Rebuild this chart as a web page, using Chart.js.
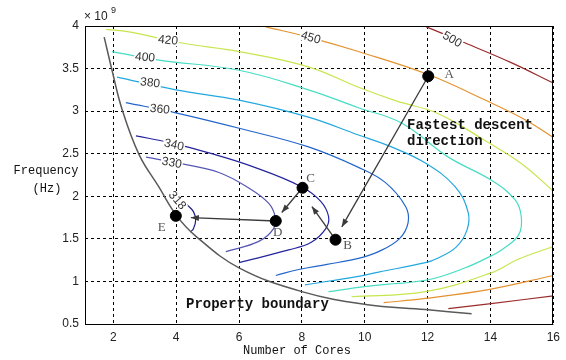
<!DOCTYPE html>
<html>
<head>
<meta charset="utf-8">
<script src="https://cdn.jsdelivr.net/npm/chart.js@4.4.1/dist/chart.umd.min.js"></script>
<style>
  html, body { margin: 0; padding: 0; background: #fff; }
  canvas { display: block; }
</style>
</head>
<body>
<canvas id="contour" width="566" height="360"></canvas>
<script>
// axis ticks
const xTicks = [2, 4, 6, 8, 10, 12, 14, 16]
const yTicks = [0.5, 1, 1.5, 2, 2.5, 3, 3.5, 4]

// contour levels and their traced lines [cores, GHz]
const levels = [318, 330, 340, 360, 380, 400, 420, 450, 500]
const c318 = [[4.35, 1.9], [4.55, 1.82], [4.62, 1.72], [4.55, 1.62], [4.45, 1.58]]
const c330 = [[3.04, 2.46], [4.2, 2.38], [5.36, 2.28], [6.3, 2.1], [6.94, 1.92], [7.15, 1.76], [7.1, 1.62], [6.63, 1.47], [5.58, 1.35]]
const c340 = [[2.72, 2.71], [3.8, 2.63], [5.04, 2.51], [6.5, 2.34], [8.0, 2.11], [8.6, 1.94], [8.85, 1.76], [8.76, 1.62], [8.3, 1.46], [7.58, 1.37], [6.0, 1.22]]
const c360 = [[2.4, 3.1], [3.99, 2.98], [6.1, 2.79], [8.21, 2.58], [9.8, 2.34], [10.66, 2.16], [11.3, 1.88], [11.38, 1.69], [11.1, 1.5], [10.44, 1.35], [9.8, 1.27], [8.8, 1.2], [7.9, 1.14], [7.17, 1.07]]
const c380 = [[2.12, 3.4], [3.99, 3.25], [6.0, 3.13], [8.21, 2.93], [9.8, 2.72], [10.85, 2.58], [11.93, 2.39], [12.88, 2.11], [13.29, 1.81], [13.25, 1.6], [12.9, 1.4], [12.3, 1.27], [11.93, 1.22], [10.44, 1.11], [9.8, 1.06], [8.1, 0.96]]
const c400 = [[1.96, 3.7], [3.45, 3.6], [6.0, 3.48], [8.21, 3.25], [9.8, 3.04], [11.17, 2.86], [12.66, 2.46], [14.02, 2.19], [14.78, 1.96], [14.98, 1.76], [14.9, 1.55], [14.4, 1.38], [14.02, 1.3], [13.2, 1.16], [12.02, 1.02], [10.5, 0.96], [9.8, 0.93], [8.85, 0.88]]
const c420a = [[1.77, 3.96], [2.5, 3.93], [4.18, 3.8], [6.0, 3.7], [8.21, 3.52], [9.8, 3.28], [11.0, 3.12], [12.34, 2.97], [13.8, 2.66], [15.0, 2.38], [16.0, 2.06]]
const c420b = [[9.58, 0.82], [11.93, 0.88], [14.02, 1.1], [14.88, 1.26], [16.0, 1.41]]
const c450a = [[6.85, 3.99], [8.21, 3.87], [9.8, 3.7], [12.02, 3.43], [13.83, 3.13], [15.1, 2.9], [16.0, 2.69]]
const c450b = [[10.6, 0.75], [11.93, 0.8], [14.02, 0.91], [16.0, 1.07]]
const c500a = [[11.96, 3.99], [13.2, 3.8], [14.66, 3.57], [16.0, 3.33]]
const c500b = [[12.66, 0.68], [14.02, 0.74], [16.0, 0.83]]

// property boundary
const boundary = [[1.71, 3.87], [1.96, 3.48], [2.28, 3.02], [2.82, 2.49], [3.45, 2.11], [4.02, 1.77], [4.63, 1.53], [6.0, 1.16], [8.0, 0.88], [10.03, 0.73], [11.93, 0.67], [13.4, 0.62]]

// search points and steps
const pointNames = ['A', 'B', 'C', 'D', 'E']
const pointX = [12.02, 9.07, 8.02, 7.17, 3.99]
const pointY = [3.41, 1.49, 2.1, 1.71, 1.77]
const stepEnds = [[9.27, 1.64], [8.32, 1.88], [7.36, 1.81], [4.47, 1.75]]

const levelColors = {
    318: '#1c1c84', 330: '#5656b4', 340: '#24249c', 360: '#2266cc', 380: '#22a8de',
    400: '#48dcc4', 420: '#c6e64e', 450: '#e4922e', 500: '#9a2c2c'
}

const contourLines = [
    [318, c318], [330, c330], [340, c340], [360, c360], [380, c380], [400, c400],
    [420, c420a], [420, c420b], [450, c450a], [450, c450b], [500, c500a], [500, c500b]
]

// contour label placement
const contourLabels = [
    { t: '420', x: 3.74, y: 3.83, r: 6 },
    { t: '400', x: 3.01, y: 3.63, r: 5 },
    { t: '380', x: 3.17, y: 3.33, r: 6 },
    { t: '360', x: 3.48, y: 3.02, r: 6 },
    { t: '340', x: 3.93, y: 2.6, r: 12 },
    { t: '330', x: 3.86, y: 2.39, r: 10 },
    { t: '318', x: 4.03, y: 1.95, r: 50 },
    { t: '450', x: 8.28, y: 3.86, r: 16 },
    { t: '500', x: 12.78, y: 3.84, r: 30 }
]

const toXY = arr => arr.map(p => ({ x: p[0], y: p[1] }))

const datasets = []

datasets.push({
    label: 'points',
    data: pointX.map((x, i) => ({ x, y: pointY[i] })),
    showLine: false,
    pointRadius: 5.5,
    pointBackgroundColor: '#000',
    pointBorderColor: '#000'
})

stepEnds.forEach((end, i) => {
    datasets.push({
        label: 'step' + i,
        data: [{ x: pointX[i], y: pointY[i] }, { x: end[0], y: end[1] }],
        showLine: true,
        borderColor: '#3a3a3a',
        borderWidth: 1.3,
        pointRadius: 0
    })
})

datasets.push({
    label: 'boundary',
    data: toXY(boundary),
    showLine: true,
    borderColor: '#5a5a5a',
    borderWidth: 1.5,
    pointRadius: 0,
    tension: 0.4
})

contourLines.forEach(([lvl, pts]) => {
    datasets.push({
        label: 'c' + lvl,
        data: toXY(pts),
        showLine: true,
        borderColor: levelColors[lvl],
        borderWidth: 1.2,
        pointRadius: 0,
        tension: 0.4
    })
})

const overlay = {
    id: 'overlay',
    afterDatasetsDraw(chart) {
        const { ctx, scales: { x, y } } = chart
        ctx.save()

        // contour labels
        ctx.font = '12px "Liberation Sans", Arial, sans-serif'
        ctx.textAlign = 'center'
        ctx.textBaseline = 'middle'
        contourLabels.forEach(l => {
            const px = x.getPixelForValue(l.x)
            const py = y.getPixelForValue(l.y)
            ctx.save()
            ctx.translate(px, py)
            ctx.rotate(l.r * Math.PI / 180)
            const w = ctx.measureText(l.t).width
            ctx.fillStyle = '#fff'
            ctx.fillRect(-w / 2 - 1, -5, w + 2, 10)
            ctx.fillStyle = '#333'
            ctx.fillText(l.t, 0, 0)
            ctx.restore()
        })

        // arrow heads
        ctx.fillStyle = '#3a3a3a'
        stepEnds.forEach((end, i) => {
            const x0 = x.getPixelForValue(pointX[i]), y0 = y.getPixelForValue(pointY[i])
            const x1 = x.getPixelForValue(end[0]), y1 = y.getPixelForValue(end[1])
            const a = Math.atan2(y1 - y0, x1 - x0)
            ctx.beginPath()
            ctx.moveTo(x1, y1)
            ctx.lineTo(x1 - 8 * Math.cos(a) + 3 * Math.sin(a), y1 - 8 * Math.sin(a) - 3 * Math.cos(a))
            ctx.lineTo(x1 - 8 * Math.cos(a) - 3 * Math.sin(a), y1 - 8 * Math.sin(a) + 3 * Math.cos(a))
            ctx.closePath()
            ctx.fill()
        })

        // point letters
        const offs = [[21, -2], [12, 6], [8, -9], [2, 12], [-14, 12]]
        ctx.font = '13px "Liberation Serif", "Times New Roman", serif'
        ctx.fillStyle = '#555'
        pointNames.forEach((n, i) => {
            ctx.fillText(n, x.getPixelForValue(pointX[i]) + offs[i][0], y.getPixelForValue(pointY[i]) + offs[i][1])
        })

        // annotations
        ctx.font = 'bold 14px "Liberation Mono", "DejaVu Sans Mono", monospace'
        ctx.fillStyle = '#111'
        ctx.textAlign = 'left'
        ctx.fillText('Fastest descent', 407, 125)
        ctx.fillText('direction', 407, 141)
        ctx.fillText('Property boundary', 186, 304)
        ctx.restore()
    },
    afterDraw(chart) {
        const { ctx, chartArea: a } = chart
        ctx.save()
        ctx.strokeStyle = '#000'
        ctx.lineWidth = 1
        ctx.strokeRect(Math.round(a.left) + 0.5, Math.round(a.top) + 0.5, Math.round(a.right - a.left) - 1, Math.round(a.bottom - a.top))

        ctx.fillStyle = '#222'
        ctx.textBaseline = 'middle'
        ctx.font = '12px "Liberation Sans", Arial, sans-serif'
        ctx.textAlign = 'left'
        ctx.fillText('\u00d7 10', 84, 17)
        ctx.font = '9px "Liberation Sans", Arial, sans-serif'
        ctx.fillText('9', 111, 11)

        ctx.font = '12px "Liberation Mono", "DejaVu Sans Mono", monospace'
        ctx.fillStyle = '#111'
        ctx.textAlign = 'center'
        ctx.fillText('Number of Cores', 297, 351)
        ctx.fillText('Frequency', 46, 171)
        ctx.fillText('(Hz)', 47, 189)
        ctx.restore()
    }
}

const tickFont = { family: '"Liberation Sans", Arial, sans-serif', size: 12 }

new Chart(document.getElementById('contour'), {
    type: 'scatter',
    data: { datasets },
    options: {
        responsive: false,
        animation: false,
        layout: { padding: { top: 26, right: 10, left: 0, bottom: 0 } },
        plugins: { legend: { display: false }, tooltip: { enabled: false } },
        scales: {
            x: {
                type: 'linear',
                min: 1.1,
                max: 16,
                afterBuildTicks: s => { s.ticks = xTicks.map(v => ({ value: v })) },
                afterFit: s => { s.height = 36 },
                grid: { color: '#000', lineWidth: 1, drawTicks: false },
                border: { display: false, dash: [3, 3] },
                ticks: { padding: 6, color: '#222', font: tickFont, callback: v => String(v) }
            },
            y: {
                type: 'linear',
                min: 0.5,
                max: 4,
                afterBuildTicks: s => { s.ticks = yTicks.map(v => ({ value: v })) },
                afterFit: s => { s.width = 85 },
                grid: { color: '#000', lineWidth: 1, drawTicks: false },
                border: { display: false, dash: [3, 3] },
                ticks: { padding: 6, color: '#222', font: tickFont, callback: v => String(v) }
            }
        }
    },
    plugins: [overlay]
})
</script>
</body>
</html>
